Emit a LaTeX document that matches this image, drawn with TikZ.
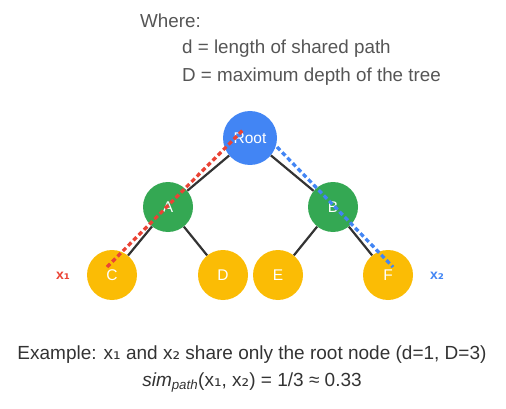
\documentclass[tikz,border=0pt]{standalone}
\usepackage{fontspec}
\setmainfont{Liberation Sans}
\newfontfamily\dejavu{DejaVu Sans}
\definecolor{gblue}{HTML}{4285F4}
\definecolor{ggreen}{HTML}{34A853}
\definecolor{gyellow}{HTML}{FBBC05}
\definecolor{gred}{HTML}{EA4335}
\definecolor{edgegray}{HTML}{333333}
\definecolor{textgray}{HTML}{555555}
\definecolor{darktext}{HTML}{333333}
\newcommand{\subone}{{\dejavu ₁}}
\newcommand{\subtwo}{{\dejavu ₂}}
\begin{document}
\begin{tikzpicture}[x=1pt,y=-1pt,
  tnode/.style={circle,minimum size=50pt,inner sep=0pt,text=white,font=\fontsize{15.5}{15.5}\selectfont},
  rootnode/.style={tnode,fill=gblue,minimum size=54pt},
  midnode/.style={tnode,fill=ggreen},
  leafnode/.style={tnode,fill=gyellow},
  treeedge/.style={draw=edgegray,line width=2.2pt},
  pathone/.style={draw=gred,line width=3.3pt,dash pattern=on 4.5pt off 3pt},
  pathtwo/.style={draw=gblue,line width=3.3pt,dash pattern=on 4.5pt off 3pt},
  toptext/.style={anchor=base west,text=textgray,font=\fontsize{18.8}{19}\selectfont,inner sep=0pt},
  bottext/.style={anchor=base,text=darktext,font=\fontsize{19}{19}\selectfont,inner sep=0pt},
  xlabel/.style={font=\bfseries\fontsize{14}{14}\selectfont,inner sep=0pt}
]
\useasboundingbox (0,0) rectangle (506,409);

% header text
\node[toptext] (where) at (140,28) {Where:};
\node[toptext] (dline) at (182,54) {d = length of shared path};
\node[toptext] (Dline) at (182,82) {D = maximum depth of the tree};

% tree nodes
\node[rootnode] (root) at (250,138) {Root};
\node[midnode] (A) at (168,207) {A};
\node[midnode] (B) at (333,207) {B};
\node[leafnode] (C) at (112,275) {C};
\node[leafnode] (D) at (223,275) {D};
\node[leafnode] (E) at (278,275) {E};
\node[leafnode] (F) at (388,275) {F};

% edges
\draw[treeedge] (root) -- (A);
\draw[treeedge] (root) -- (B);
\draw[treeedge] (A) -- (C);
\draw[treeedge] (A) -- (D);
\draw[treeedge] (B) -- (E);
\draw[treeedge] (B) -- (F);

% highlighted paths
\coordinate (p1s) at (107,267);
\coordinate (p1e) at (243,130);
\coordinate (p2s) at (277,147);
\coordinate (p2e) at (393,267);
\draw[pathone] (p1s) -- (p1e);
\draw[pathtwo] (p2s) -- (p2e);

% labels
\node[xlabel,text=gred] (x1) at (63,276) {x\subone};
\node[xlabel,text=gblue] (x2) at (437,276) {x\subtwo};

% bottom text
\node[bottext] (ex) at (252,359) {Example: x\subone{} and x\subtwo{} share only the root node (d=1, D=3)};
\node[bottext] (sim) at (252,386) {$\mathit{sim}_{\mathit{path}}$(x\subone, x\subtwo) = 1/3 ≈ 0.33};
\end{tikzpicture}
\end{document}
